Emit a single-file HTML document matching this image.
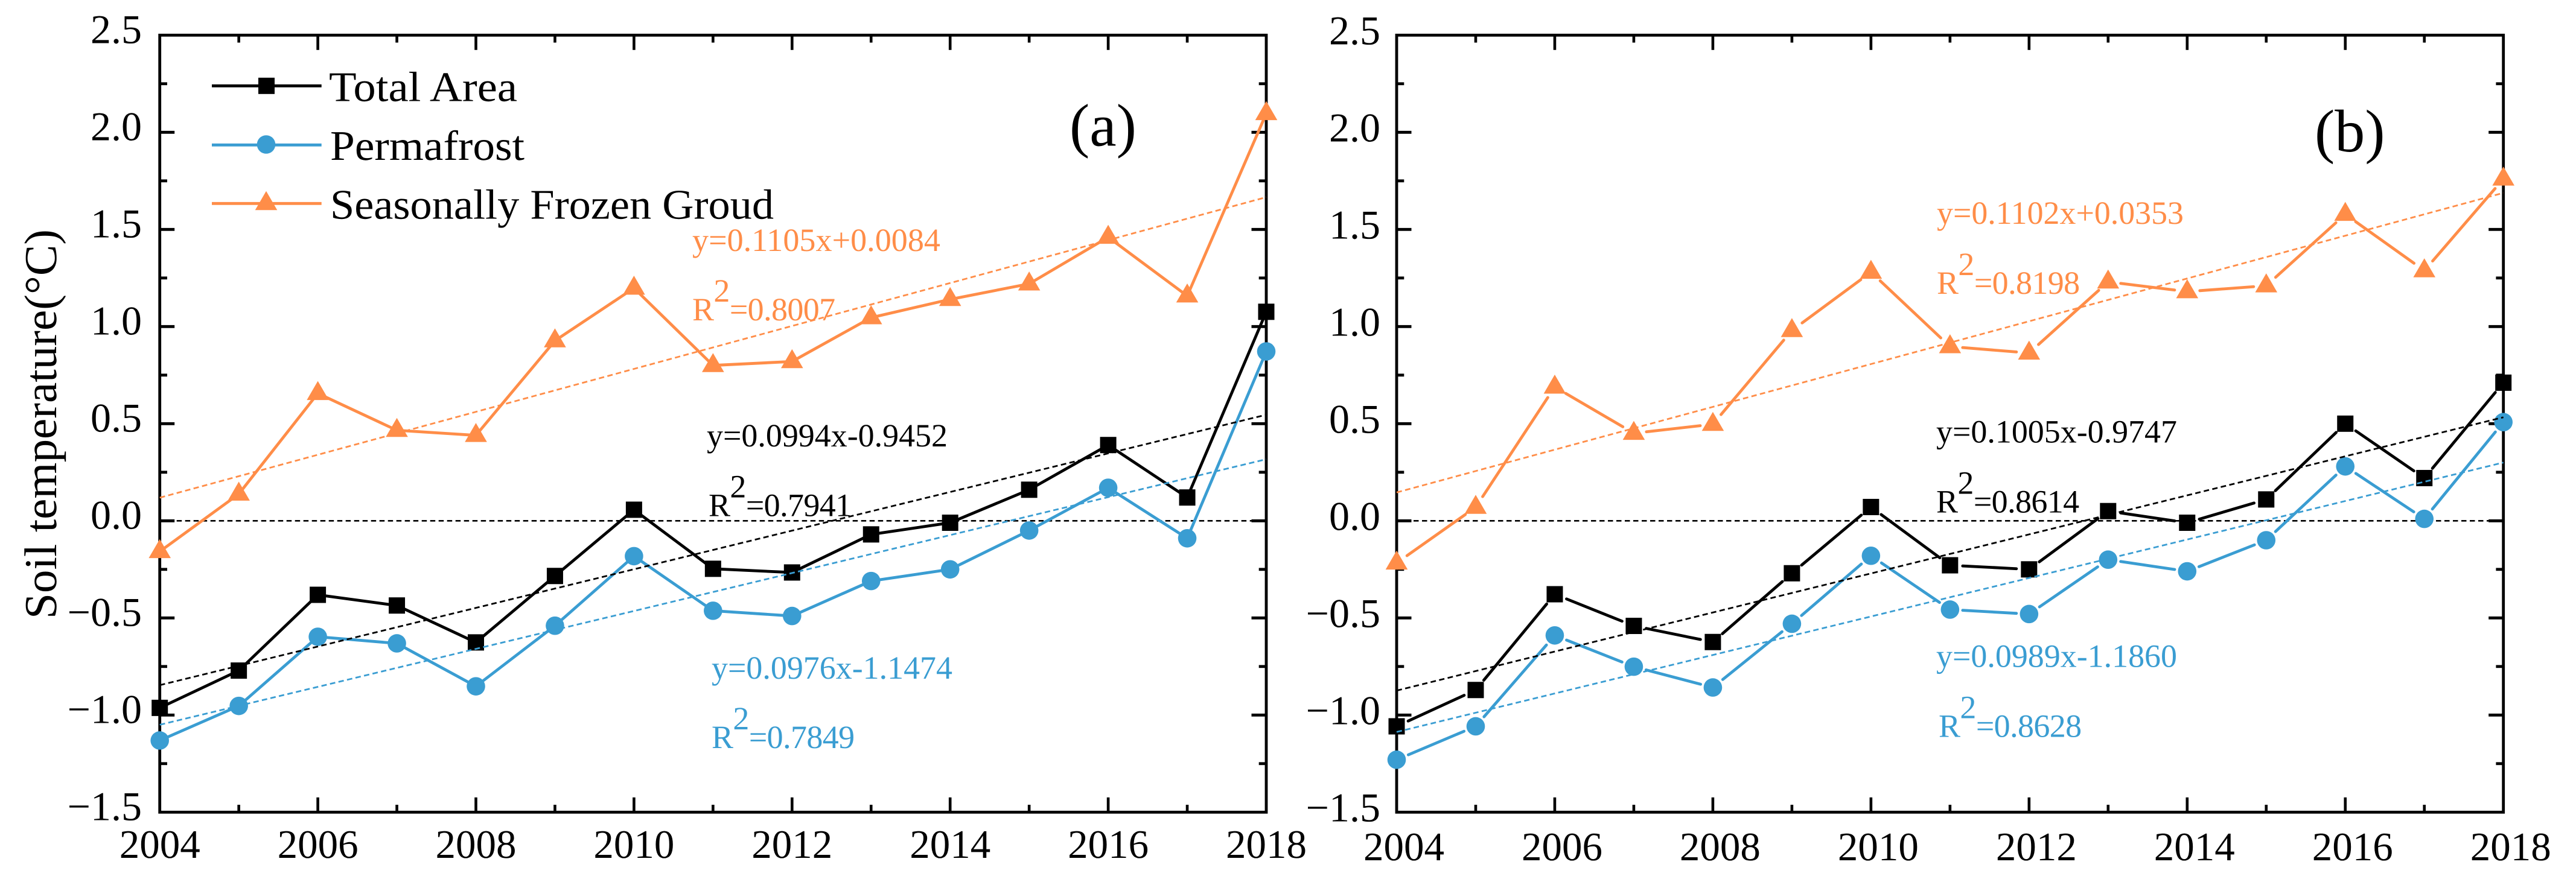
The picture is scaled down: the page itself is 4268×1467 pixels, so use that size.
<!DOCTYPE html>
<html lang="en">
<head>
<meta charset="utf-8">
<title>Soil temperature trends</title>
<style>
html,body{margin:0;padding:0;background:#fff;}
svg{display:block;}
text{font-family:"Liberation Serif","Noto Serif CJK SC",serif;fill:#000;text-rendering:geometricPrecision;}
.eq{font-size:54px;}
.r2{font-size:54px;letter-spacing:-0.6px;}
.orange{fill:#FF8D48;}
.blue{fill:#3A9DD2;}
.leg{font-size:70px;}
.plab{font-size:100px;}
</style>
</head>
<body>
<svg id="chart" xmlns="http://www.w3.org/2000/svg" width="4268" height="1467" viewBox="0 0 4268 1467">
  <rect x="0" y="0" width="4268" height="1467" fill="#fff"/>
  <g id="panel-a"></g>
  <g id="panel-b"></g>

  <text font-size="76" transform="translate(93,1026) rotate(-90)" textLength="646" lengthAdjust="spacingAndGlyphs">Soil temperature(°C)</text>

  <g>
    <g>
      <line x1="351" y1="142.3" x2="532.7" y2="142.3" stroke="#000" stroke-width="4.8"/>
      <rect x="428" y="128.8" width="27" height="27" fill="#000"/>
      <text class="leg" x="545" y="167.7" textLength="312" lengthAdjust="spacingAndGlyphs">Total Area</text>
    </g>
    <g>
      <line x1="351" y1="240.3" x2="532.7" y2="240.3" stroke="#3A9DD2" stroke-width="4.8"/>
      <circle cx="441" cy="239.5" r="15.3" fill="#3A9DD2"/>
      <text class="leg" x="547" y="265" textLength="322" lengthAdjust="spacingAndGlyphs">Permafrost</text>
    </g>
    <g>
      <line x1="351" y1="337.3" x2="532.7" y2="337.3" stroke="#FF8D48" stroke-width="4.8"/>
      <polygon points="441,316.7 459.3,348.3 422.7,348.3" fill="#FF8D48"/>
      <text class="leg" x="547" y="362.3" textLength="735" lengthAdjust="spacingAndGlyphs">Seasonally Frozen Groud</text>
    </g>
  </g>

  <text class="plab" x="1772" y="241.6">(a)</text>
  <text class="plab" x="3835" y="251">(b)</text>

  <g>
    <text class="eq orange" x="1147" y="416" textLength="411" lengthAdjust="spacingAndGlyphs">y=0.1105x+0.0084</text>
    <text class="r2 orange" x="1147" y="531">R<tspan dy="-31">2</tspan><tspan dy="31">=0.8007</tspan></text>
    <text class="eq" x="1171" y="740" textLength="399" lengthAdjust="spacingAndGlyphs">y=0.0994x-0.9452</text>
    <text class="r2" x="1174" y="855.7">R<tspan dy="-31">2</tspan><tspan dy="31">=0.7941</tspan></text>
    <text class="eq blue" x="1179" y="1125" textLength="399" lengthAdjust="spacingAndGlyphs">y=0.0976x-1.1474</text>
    <text class="r2 blue" x="1179" y="1240">R<tspan dy="-31">2</tspan><tspan dy="31">=0.7849</tspan></text>
  </g>
  <g>
    <text class="eq orange" x="3209" y="370.8" textLength="409" lengthAdjust="spacingAndGlyphs">y=0.1102x+0.0353</text>
    <text class="r2 orange" x="3209" y="487">R<tspan dy="-31">2</tspan><tspan dy="31">=0.8198</tspan></text>
    <text class="eq" x="3208" y="733.6" textLength="399" lengthAdjust="spacingAndGlyphs">y=0.1005x-0.9747</text>
    <text class="r2" x="3208" y="849.5">R<tspan dy="-31">2</tspan><tspan dy="31">=0.8614</tspan></text>
    <text class="eq blue" x="3208" y="1105.6" textLength="399" lengthAdjust="spacingAndGlyphs">y=0.0989x-1.1860</text>
    <text class="r2 blue" x="3212" y="1221.5">R<tspan dy="-31">2</tspan><tspan dy="31">=0.8628</tspan></text>
  </g>
</svg>

<script>
// ---- data ----
const years = [2004,2005,2006,2007,2008,2009,2010,2011,2012,2013,2014,2015,2016,2017,2018];
const xTickYears = [2004,2005,2006,2007,2008,2009,2010,2011,2012,2013,2014,2015,2016,2017,2018];
const xLabelYears = [2004,2006,2008,2010,2012,2014,2016,2018];
const yTickValues = [-1.5,-1.25,-1.0,-0.75,-0.5,-0.25,0,0.25,0.5,0.75,1.0,1.25,1.5,1.75,2.0,2.25,2.5];
const yLabelValues = [-1.5,-1.0,-0.5,0,0.5,1.0,1.5,2.0,2.5];
const yLabelStrings = ["\u22121.5","\u22121.0","\u22120.5","0.0","0.5","1.0","1.5","2.0","2.5"];

const totalA  = [-0.963,-0.771,-0.381,-0.436,-0.626,-0.284,0.057,-0.247,-0.266,-0.07,-0.01,0.16,0.39,0.12,1.076];
const permaA  = [-1.131,-0.953,-0.597,-0.631,-0.852,-0.54,-0.182,-0.463,-0.49,-0.31,-0.25,-0.05,0.17,-0.09,0.872];
const frozenA = [-0.158,0.138,0.656,0.466,0.44,0.927,1.198,0.80,0.82,1.046,1.14,1.22,1.46,1.158,2.097];
const trendTotalA  = [-0.846,0.546];
const trendPermaA  = [-1.05,0.317];
const trendFrozenA = [0.119,1.666];

const totalB  = [-1.058,-0.871,-0.378,-0.541,-0.624,-0.27,0.071,-0.229,-0.25,0.05,-0.01,0.11,0.50,0.22,0.711];
const permaB  = [-1.23,-1.058,-0.59,-0.751,-0.858,-0.53,-0.18,-0.457,-0.48,-0.2,-0.26,-0.10,0.28,0.01,0.508];
const frozenB = [-0.217,0.07,0.689,0.451,0.497,0.98,1.28,0.897,0.864,1.23,1.18,1.21,1.578,1.288,1.76];
const trendTotalB  = [-0.874,0.533];
const trendPermaB  = [-1.087,0.30];
const trendFrozenB = [0.146,1.688];

// ---- layout ----
const NS = 'http://www.w3.org/2000/svg';
const plotTop = 58.3, plotBottom = 1346.3;
const yMin = -1.5, yMax = 2.5;
const BLACK = '#000', BLUE = '#3A9DD2', ORANGE = '#FF8D48';

function yScale(v){ return plotBottom - (v - yMin) / (yMax - yMin) * (plotBottom - plotTop); }
function xScaleFor(x0, x1){
  return function(yr){ return x0 + (yr - years[0]) / (years[years.length-1] - years[0]) * (x1 - x0); };
}
function make(parent, tag, attrs, name){
  const el = document.createElementNS(NS, tag);
  for (const k in attrs) el.setAttribute(k, attrs[k]);
  
  
  parent.appendChild(el);
  return el;
}

function marker(g, kind, cx, cy, color, name){
  if (kind === 'square') {
    make(g, 'rect', {x: cx-13.5, y: cy-13.5, width: 27, height: 27, fill: color}, name);
  } else if (kind === 'circle') {
    make(g, 'circle', {cx: cx, cy: cy, r: 15.3, fill: color}, name);
  } else {
    make(g, 'polygon', {points: cx+','+(cy-20.5)+' '+(cx+18.3)+','+(cy+11)+' '+(cx-18.3)+','+(cy+11), fill: color}, name);
  }
}

function drawSeries(g, xs, values, color, kind, gap, name){
  const sg = make(g, 'g', {}, 'series-' + name);
  for (let i = 0; i < values.length - 1; i++) {
    let ax = xs(years[i]), ay = yScale(values[i]), bx = xs(years[i+1]), by = yScale(values[i+1]);
    const len = Math.hypot(bx-ax, by-ay);
    if (len <= 2*gap) continue;
    const ux = (bx-ax)/len, uy = (by-ay)/len;
    make(sg, 'line', {x1: ax+ux*gap, y1: ay+uy*gap, x2: bx-ux*gap, y2: by-uy*gap, stroke: color, 'stroke-width': 4.8, 'stroke-linecap': 'round'}, 'line-' + name + '-' + years[i]);
  }
  values.forEach(function(v, i){
    marker(sg, kind, xs(years[i]), yScale(v), color, 'point-' + name + '-' + years[i]);
  });
}

function drawTrend(g, xs, ends, color, name){
  make(g, 'line', {x1: xs(years[0]), y1: yScale(ends[0]), x2: xs(years[years.length-1]), y2: yScale(ends[1]), stroke: color, 'stroke-width': 2.8, 'stroke-dasharray': '9 5.5'}, 'trend-' + name);
}

function drawPanel(id, x0, x1, opts){
  const g = document.getElementById(id);
  const xs = xScaleFor(x0, x1);
  const axisG = make(g, 'g', {}, id + '-axes');

  make(axisG, 'line', {x1: x0, y1: yScale(0), x2: x1, y2: yScale(0), stroke: '#000', 'stroke-width': 2.7, 'stroke-dasharray': '8.5 5.5'}, 'zero-line');

  yTickValues.forEach(function(v, i){
    if (v === yMin || v === yMax) return;
    const len = (i % 2 === 0) ? 24.5 : 12.3;
    const y = yScale(v);
    make(axisG, 'line', {x1: x0, y1: y, x2: x0+len, y2: y, stroke: '#000', 'stroke-width': 4.8}, 'y-tick-left-' + v);
    make(axisG, 'line', {x1: x1, y1: y, x2: x1-len, y2: y, stroke: '#000', 'stroke-width': 4.8}, 'y-tick-right-' + v);
  });
  xTickYears.forEach(function(yr, i){
    if (i === 0 || i === xTickYears.length-1) return;
    const len = (i % 2 === 0) ? 24.5 : 12.3;
    const x = xs(yr);
    make(axisG, 'line', {x1: x, y1: plotBottom, x2: x, y2: plotBottom-len, stroke: '#000', 'stroke-width': 4.6}, 'x-tick-bottom-' + yr);
    make(axisG, 'line', {x1: x, y1: plotTop, x2: x, y2: plotTop+len, stroke: '#000', 'stroke-width': 4.6}, 'x-tick-top-' + yr);
  });
  make(axisG, 'rect', {x: x0, y: plotTop, width: x1-x0, height: plotBottom-plotTop, fill: 'none', stroke: '#000', 'stroke-width': 4.8}, 'plot-frame');

  yLabelValues.forEach(function(v, i){
    const t = make(axisG, 'text', {x: opts.yLabelX, y: yScale(v)+opts.yLabelDy, 'text-anchor': 'end', 'font-size': 68}, 'y-tick-label');
    t.textContent = yLabelStrings[i];
  });
  xLabelYears.forEach(function(yr){
    const t = make(axisG, 'text', {x: xs(yr)+opts.xLabelDx, y: opts.xLabelY, 'text-anchor': 'middle', 'font-size': 67}, 'x-tick-label');
    t.textContent = String(yr);
  });

  drawSeries(g, xs, opts.total, BLACK, 'square', opts.gap, 'total-area');
  drawSeries(g, xs, opts.perma, BLUE, 'circle', opts.gap, 'permafrost');
  drawSeries(g, xs, opts.frozen, ORANGE, 'triangle', opts.gap, 'seasonally-frozen-ground');
  drawTrend(g, xs, opts.trendTotal, BLACK, 'total-area');
  drawTrend(g, xs, opts.trendPerma, BLUE, 'permafrost');
  drawTrend(g, xs, opts.trendFrozen, ORANGE, 'seasonally-frozen-ground');
}

drawPanel('panel-a', 264.7, 2098, {
  yLabelX: 235, yLabelDy: 13, xLabelDx: 0, xLabelY: 1422, gap: 0,
  total: totalA, perma: permaA, frozen: frozenA,
  trendTotal: trendTotalA, trendPerma: trendPermaA, trendFrozen: trendFrozenA
});
drawPanel('panel-b', 2314, 4147.7, {
  yLabelX: 2287, yLabelDy: 15, xLabelDx: 12, xLabelY: 1426, gap: 21,
  total: totalB, perma: permaB, frozen: frozenB,
  trendTotal: trendTotalB, trendPerma: trendPermaB, trendFrozen: trendFrozenB
});
</script>
</body>
</html>
